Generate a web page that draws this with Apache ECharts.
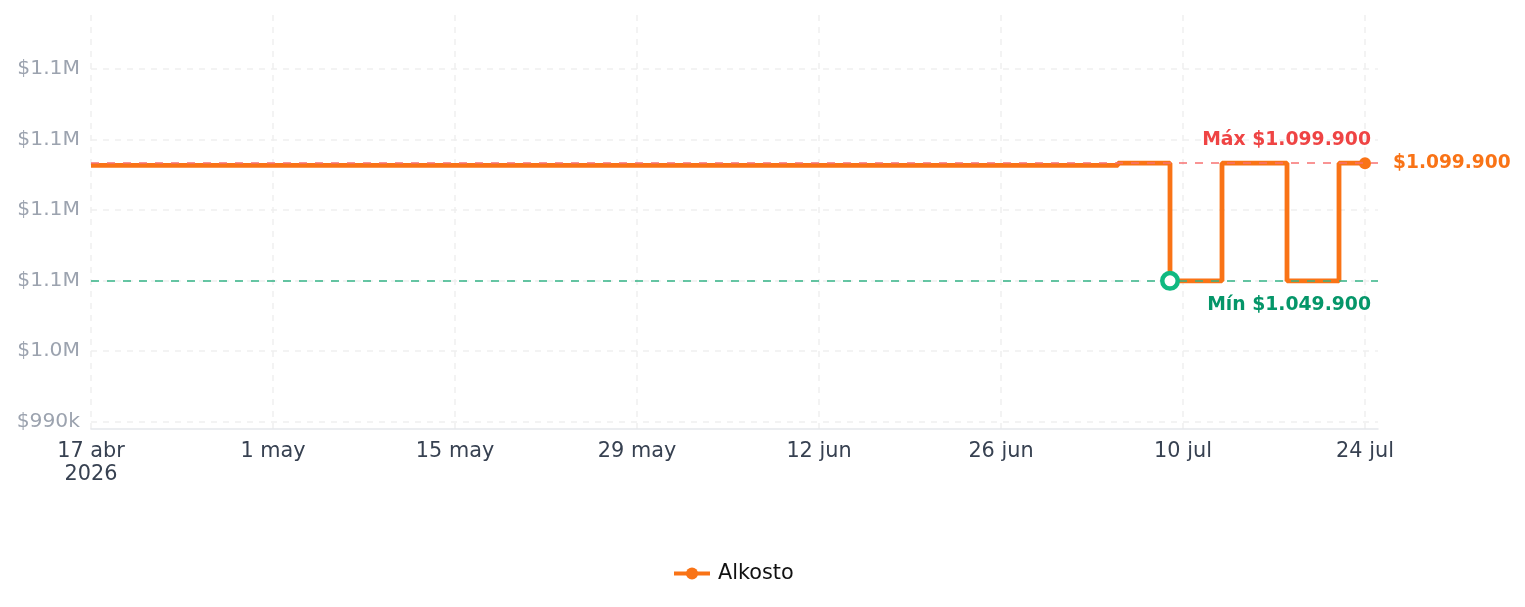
<!DOCTYPE html>
<html>
<head>
<meta charset="utf-8">
<title>Alkosto</title>
<script src="https://cdn.jsdelivr.net/npm/echarts@6/dist/echarts.min.js"></script>
<style>
  html, body { margin: 0; padding: 0; background: #fff; }
  #chart { width: 1525px; height: 607px; }
</style>
</head>
<body>
<div id="chart"></div>
<script>
// precios (step 'end')
const dates = ['2026-04-17', '2026-07-05', '2026-07-09', '2026-07-13', '2026-07-18', '2026-07-22', '2026-07-24']
const prices = [1099000, 1099900, 1049900, 1099900, 1049900, 1099900, 1099900]
const seriesName = 'Alkosto'
const xStart = '2026-04-17'
const xEnd = '2026-07-25'
const yMin = 986900
const yMax = 1162900
const months = ['ene', 'feb', 'mar', 'abr', 'may', 'jun', 'jul', 'ago', 'sep', 'oct', 'nov', 'dic']

const DAY = 86400000
const toTs = s => {
  const p = s.split('-').map(Number)
  return Date.UTC(p[0], p[1] - 1, p[2])
}
const money = v => '$' + String(Math.round(v)).replace(/\B(?=(\d{3})+(?!\d))/g, '.')

const lastIdx = prices.length - 1
const seriesData = dates.map((d, i) => {
  if (i === lastIdx) return { value: [toTs(d), prices[i]], symbol: 'circle', symbolSize: 12 }
  return { value: [toTs(d), prices[i]], symbol: 'none' }
})

const chart = echarts.init(document.getElementById('chart'))

chart.setOption({
  animation: false,
  grid: {
    left: 91,
    right: 147,
    top: 15,
    bottom: 178,
    containLabel: false,
    outerBoundsMode: 'none'
  },
  legend: {
    data: [seriesName],
    bottom: 18,
    left: 667,
    itemWidth: 36,
    itemHeight: 15,
    lineStyle: { width: 4 },
    textStyle: { fontSize: 20.8, color: '#111', fontFamily: 'DejaVu Sans', padding: [0, 0, 0, 3] }
  },
  xAxis: {
    type: 'value',
    min: toTs(xStart),
    max: toTs(xEnd),
    interval: 14 * DAY,
    axisLine: { show: true, lineStyle: { color: '#e5e7eb', width: 1.5 } },
    axisTick: { show: false },
    splitLine: {
      show: true,
      showMinLine: true,
      showMaxLine: false,
      lineStyle: { color: '#f0f0f0', type: [6, 6], width: 1.5 }
    },
    axisLabel: {
      showMaxLabel: false,
      margin: 11,
      fontSize: 20.8,
      lineHeight: 23,
      color: '#374151',
      fontFamily: 'DejaVu Sans',
      formatter: v => {
        const d = new Date(v)
        const txt = d.getUTCDate() + ' ' + months[d.getUTCMonth()]
        return v === toTs(xStart) ? txt + '\n' + d.getUTCFullYear() : txt
      }
    }
  },
  yAxis: {
    type: 'value',
    min: yMin,
    max: yMax,
    splitNumber: 5,
    axisLine: { show: false },
    axisTick: { show: false },
    splitLine: {
      show: true,
      showMinLine: false,
      showMaxLine: false,
      lineStyle: { color: '#f0f0f0', type: [6, 6], width: 1.5 }
    },
    axisLabel: {
      showMinLabel: false,
      showMaxLabel: false,
      margin: 11,
      padding: [3, 0, 0, 0],
      fontSize: 20.3,
      color: '#9ca3af',
      fontFamily: 'DejaVu Sans',
      formatter: v => v >= 1e6 ? '$' + (v / 1e6).toFixed(1) + 'M' : '$' + Math.round(v / 1000) + 'k'
    }
  },
  series: [{
    name: seriesName,
    type: 'line',
    step: 'end',
    symbol: 'circle',
    data: seriesData,
    color: '#f97316',
    lineStyle: { width: 4.8, color: '#f97316' },
    itemStyle: { color: '#f97316' },
    endLabel: {
      show: true,
      distance: 28,
      formatter: p => money(p.value[1]),
      color: '#f97316',
      fontWeight: 'bold',
      fontSize: 18.6,
      fontFamily: 'DejaVu Sans'
    },
    markLine: {
      silent: true,
      symbol: 'none',
      z: 10,
      data: [
        {
          type: 'max',
          lineStyle: { color: '#f87171', type: [8, 8], width: 1.5 },
          label: {
            show: true,
            position: 'insideEndTop',
            distance: [7, 14],
            formatter: p => 'Máx ' + money(p.value),
            color: '#ef4444',
            fontWeight: 'bold',
            fontSize: 18.8,
            fontFamily: 'DejaVu Sans'
          }
        },
        {
          type: 'min',
          lineStyle: { color: '#34b487', type: [8, 8], width: 1.5 },
          label: {
            show: true,
            position: 'insideEndBottom',
            distance: [7, 15],
            formatter: p => 'Mín ' + money(p.value),
            color: '#059669',
            fontWeight: 'bold',
            fontSize: 18.8,
            fontFamily: 'DejaVu Sans'
          }
        }
      ]
    },
    markPoint: {
      silent: true,
      z: 12,
      data: [{
        type: 'min',
        symbol: 'circle',
        symbolSize: 15.5,
        itemStyle: { color: '#ffffff', borderColor: '#10b981', borderWidth: 4.5 },
        label: { show: false }
      }]
    }
  }]
})
</script>
</body>
</html>
